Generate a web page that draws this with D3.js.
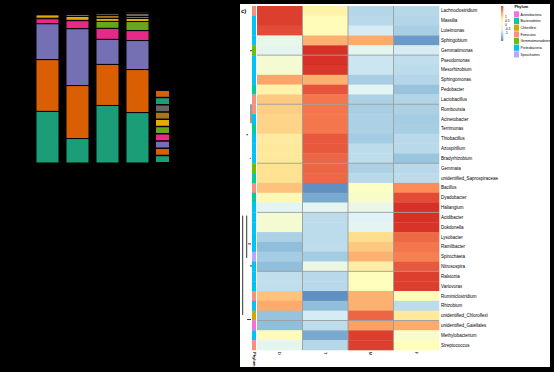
<!DOCTYPE html>
<html>
<head>
<meta charset="utf-8">
<script src="https://cdn.jsdelivr.net/npm/d3@7"></script>
<style>
  body { margin: 0; background: #000; }
  svg { display: block; font-family: "Liberation Sans", Arial, sans-serif; }
</style>
</head>
<body>
<div id="container"></div>
<script>
// ---- stacked bars (left panel) ----
const samples = ["S1", "S2", "S3", "S4"];
const barTaxa = ["t1", "t2", "t3", "t4", "t5", "t6", "t7", "t8", "t9", "t10"];
const barColors = ["#1B9E77", "#D95F02", "#7570B3", "#E7298A", "#66A61E",
                   "#E6AB02", "#A6761D", "#666666", "#1B9E77", "#D95F02"];
const abundS1 = [0.342, 0.343, 0.238, 0.033, 0.003, 0.023, 0.007, 0.007, 0.002, 0.002];
const abundS2 = [0.162, 0.351, 0.377, 0.053, 0.002, 0.026, 0.013, 0.007, 0.002, 0.007];
const abundS3 = [0.381, 0.272, 0.166, 0.073, 0.046, 0.020, 0.020, 0.013, 0.002, 0.007];
const abundS4 = [0.334, 0.285, 0.192, 0.066, 0.060, 0.020, 0.013, 0.020, 0.002, 0.008];

// ---- heatmap (right panel) ----
const groups = ["D", "T", "M", "F"];
const genera = ["Lachnoclostridium", "Massilia", "Luteimonas", "Sphingobium", "Gemmatimonas",
  "Pseudomonas", "Mesorhizobium", "Sphingomonas", "Pedobacter", "Lactobacillus",
  "Romboutsia", "Acinetobacter", "Terrimonas", "Thiobacillus", "Azospirillum",
  "Bradyrhizobium", "Gemmata", "unidentified_Saprospiraceae", "Bacillus", "Dyadobacter",
  "Haliangium", "Acidibacter", "Dokdonella", "Lysobacter", "Ramlibacter",
  "Spirochaeta", "Nitrosospira", "Ralstonia", "Variovorax", "Ruminiclostridium",
  "Rhizobium", "unidentified_Chloroflexi", "unidentified_Gaiellales", "Methylobacterium", "Streptococcus"];
const zValues = [
  [2.19, 0.48, -0.89, -0.86], [2.19, 0.30, -0.85, -0.90], [2.10, 0.30, -0.60, -1.00],
  [-0.30, 1.30, 1.35, -1.55], [-0.40, 2.30, -0.40, -0.60], [-0.05, 2.30, -0.68, -0.78],
  [-0.05, 2.25, -0.68, -0.82], [1.40, 1.30, -1.00, -0.89], [0.48, 2.02, -0.45, -1.15],
  [1.10, 1.77, -0.96, -0.92], [1.05, 1.77, -1.00, -0.96], [1.00, 1.77, -0.96, -1.03],
  [1.00, 1.77, -0.96, -1.00], [0.65, 2.00, -1.03, -0.85], [0.72, 2.00, -0.82, -0.85],
  [0.72, 1.90, -0.80, -1.12], [0.88, 1.90, -0.96, -0.85], [0.88, 1.88, -0.85, -0.82],
  [1.15, -1.65, 0.15, 1.60], [0.35, -1.41, 0.05, 2.10], [-0.45, -0.40, -0.30, 2.30],
  [-0.05, -0.82, -0.50, 2.30], [-0.05, -0.82, -0.42, 2.28], [-0.96, -0.82, 0.92, 1.88],
  [-1.20, -0.80, 1.10, 1.77], [-1.03, -1.03, 1.30, 1.70], [-1.20, -0.25, 0.60, 2.00],
  [-0.78, -0.85, 0.25, 2.19], [-0.78, -0.85, 0.25, 2.19], [1.15, -1.65, 1.30, 0.30],
  [1.35, -1.20, 1.30, -0.82], [-1.15, -0.60, 1.90, 0.70], [-1.20, -0.80, 1.43, 1.35],
  [0.30, -1.41, 2.19, 0.05], [-0.40, -0.88, 2.19, 0.25]
];
const phyla = ["Actinobacteria", "Bacteroidetes", "Chloroflexi", "Firmicutes",
               "Gemmatimonadetes", "Proteobacteria", "Spirochaetes"];
const phylaColors = ["#F36FE6", "#00CC9E", "#D0AA00", "#F8907F", "#6CBE00", "#00C3F3", "#B8A6FF"];
const rowPhylum = ["Firmicutes", "Proteobacteria", "Proteobacteria", "Proteobacteria", "Gemmatimonadetes",
  "Proteobacteria", "Proteobacteria", "Proteobacteria", "Bacteroidetes", "Firmicutes",
  "Firmicutes", "Proteobacteria", "Bacteroidetes", "Proteobacteria", "Proteobacteria",
  "Proteobacteria", "Gemmatimonadetes", "Bacteroidetes", "Firmicutes", "Bacteroidetes",
  "Proteobacteria", "Proteobacteria", "Proteobacteria", "Proteobacteria", "Proteobacteria",
  "Spirochaetes", "Proteobacteria", "Proteobacteria", "Proteobacteria", "Firmicutes",
  "Proteobacteria", "Chloroflexi", "Actinobacteria", "Proteobacteria", "Firmicutes"];
const rowGaps = [5, 10, 16, 21, 27, 32];
const legendTicks = [-1, -0.5, 0, 0.5, 1];
// squeezed row dendrogram: [row from, row to, height] and stubs [row, h0, h1]
const dendroLinks = [[10.0, 11.93, 0.23], [21.33, 25.63, 1.22], [21.33, 31.43, 2.15]];
const dendroStubs = [[4.55, 0, 0.46], [13.1, 0.9, 1.3], [15.5, 0.3, 0.5], [24.2, 0.23, 0.9],
                     [26.45, 0, 0.5], [31.9, 0.23, 1.15]];

const W = 554, H = 372;
const svg = d3.select("#container").append("svg")
  .attr("width", W).attr("height", H);
svg.append("rect").attr("width", W).attr("height", H).attr("fill", "#000");

// ---------- left: stacked bars ----------
const abund = [abundS1, abundS2, abundS3, abundS4];
const barData = samples.map((s, i) => {
  const o = { sample: s };
  barTaxa.forEach((t, j) => o[t] = abund[i][j]);
  return o;
});
const stack = d3.stack().keys(barTaxa)(barData);
const xBar = d3.scaleBand().domain(samples).range([32.5, 152.5])
  .paddingInner(7 / 30).paddingOuter(7 / 60);
const yBar = d3.scaleLinear().domain([0, 1]).range([163, 12]);
const barColor = d3.scaleOrdinal().domain(barTaxa).range(barColors);

svg.append("g").selectAll("g").data(stack).join("g")
  .attr("fill", d => barColor(d.key))
  .selectAll("rect").data(d => d).join("rect")
  .attr("x", d => xBar(d.data.sample))
  .attr("width", xBar.bandwidth())
  .attr("y", d => yBar(d[1]))
  .attr("height", d => yBar(d[0]) - yBar(d[1]))
  .attr("stroke", "#000").attr("stroke-width", 1);

const yLeg = d3.scaleBand().domain(barTaxa.slice().reverse()).range([91, 162]).paddingInner(0.2);
svg.append("g").selectAll("rect").data(barTaxa).join("rect")
  .attr("x", 156).attr("width", 13)
  .attr("y", d => yLeg(d)).attr("height", yLeg.bandwidth())
  .attr("fill", d => barColor(d));

// ---------- right: heatmap panel ----------
svg.append("rect").attr("x", 240).attr("y", 4).attr("width", 310).attr("height", 363)
  .attr("fill", "#fff");

svg.append("text").attr("x", 241).attr("y", 12.5)
  .attr("font-size", 6).attr("font-weight", "bold").text("c)");

const xHm = d3.scaleBand().domain(groups).range([257, 439]);
const yHm = d3.scaleBand().domain(genera).range([6, 350]);
const lo = -1.9, hi = 2.3;
const palette = ["#4575B4", "#91BFDB", "#E0F3F8", "#FFFFBF", "#FEE090", "#FC8D59", "#D73027"];
const color = d3.scaleLinear()
  .domain(palette.map((c, i) => lo + i * (hi - lo) / (palette.length - 1)))
  .range(palette).clamp(true);

const cells = [];
genera.forEach((g, i) => groups.forEach((c, j) => cells.push({ g, c, v: zValues[i][j] })));
svg.append("g").selectAll("rect").data(cells).join("rect")
  .attr("x", d => xHm(d.c)).attr("y", d => yHm(d.g))
  .attr("width", xHm.bandwidth() + 0.3).attr("height", yHm.bandwidth() + 0.3)
  .attr("fill", d => color(d.v));

// gap lines
const gapG = svg.append("g").attr("stroke", "#9c9c9c").attr("stroke-width", 0.9);
gapG.selectAll("line.r").data(rowGaps).join("line").attr("class", "r")
  .attr("x1", xHm.range()[0]).attr("x2", xHm.range()[1])
  .attr("y1", d => yHm(genera[d])).attr("y2", d => yHm(genera[d]));
gapG.selectAll("line.c").data(groups.slice(1)).join("line").attr("class", "c")
  .attr("y1", yHm.range()[0]).attr("y2", yHm.range()[1])
  .attr("x1", d => xHm(d)).attr("x2", d => xHm(d));

// row annotation strip
const phylumColor = d3.scaleOrdinal().domain(phyla).range(phylaColors);
svg.append("g").selectAll("rect").data(genera).join("rect")
  .attr("x", 252).attr("width", 4)
  .attr("y", d => yHm(d)).attr("height", yHm.bandwidth() + 0.3)
  .attr("fill", (d, i) => phylumColor(rowPhylum[i]));

// squeezed dendrogram
const rowY = d3.scaleLinear().domain([0, genera.length]).range(yHm.range());
const dx = d3.scaleLinear().domain([0, 3]).range([252, 239]);
const dg = svg.append("g").attr("stroke", "#000").attr("stroke-width", 0.8);
dg.selectAll("line.v").data(dendroLinks).join("line").attr("class", "v")
  .attr("x1", d => dx(d[2])).attr("x2", d => dx(d[2]))
  .attr("y1", d => rowY(d[0])).attr("y2", d => rowY(d[1]));
dg.selectAll("line.h").data(dendroStubs).join("line").attr("class", "h")
  .attr("x1", d => dx(d[1])).attr("x2", d => dx(d[2]))
  .attr("y1", d => rowY(d[0])).attr("y2", d => rowY(d[0]));

// row labels
svg.append("g").selectAll("text").data(genera).join("text")
  .attr("x", 441).attr("y", d => yHm(d) + yHm.bandwidth() / 2)
  .attr("dy", "0.35em").attr("font-size", 4.5).attr("fill", "#000")
  .text(d => d);

// column labels
svg.append("g").selectAll("text").data(groups).join("text")
  .attr("transform", d => `translate(${xHm(d) + xHm.bandwidth() / 2 - 1.3},352) rotate(90)`)
  .attr("font-size", 4).text(d => d);

// annotation name
svg.append("text")
  .attr("transform", "translate(252.8,352) rotate(90)")
  .attr("font-size", 4).attr("font-weight", "bold").text("Phylum");

// color legend
const ly = d3.scaleLinear().domain([lo, hi]).range([40.7, 6]);
const steps = d3.range(60).map(i => lo + (i + 0.5) * (hi - lo) / 60);
svg.append("g").selectAll("rect").data(steps).join("rect")
  .attr("x", 501).attr("width", 2.2)
  .attr("y", d => ly(d + (hi - lo) / 120)).attr("height", (40.7 - 6) / 60 + 0.2)
  .attr("fill", d => color(d));
svg.append("g").selectAll("text").data(legendTicks).join("text")
  .attr("x", 505).attr("y", d => ly(d)).attr("dy", "0.35em")
  .attr("font-size", 3.3).text(d => d);

// phylum legend
svg.append("text").attr("x", 514.5).attr("y", 8.3)
  .attr("font-size", 3.8).attr("font-weight", "bold").text("Phylum");
const pl = d3.scaleBand().domain(phyla).range([11.3, 57.5]).paddingInner(0.08);
const plg = svg.append("g").selectAll("g").data(phyla).join("g")
  .attr("transform", d => `translate(514,${pl(d)})`);
plg.append("rect").attr("width", 5).attr("height", pl.bandwidth())
  .attr("fill", d => phylumColor(d));
plg.append("text").attr("x", 6.5).attr("y", pl.bandwidth() / 2).attr("dy", "0.35em")
  .attr("font-size", 3.3).text(d => d);
</script>
</body>
</html>
